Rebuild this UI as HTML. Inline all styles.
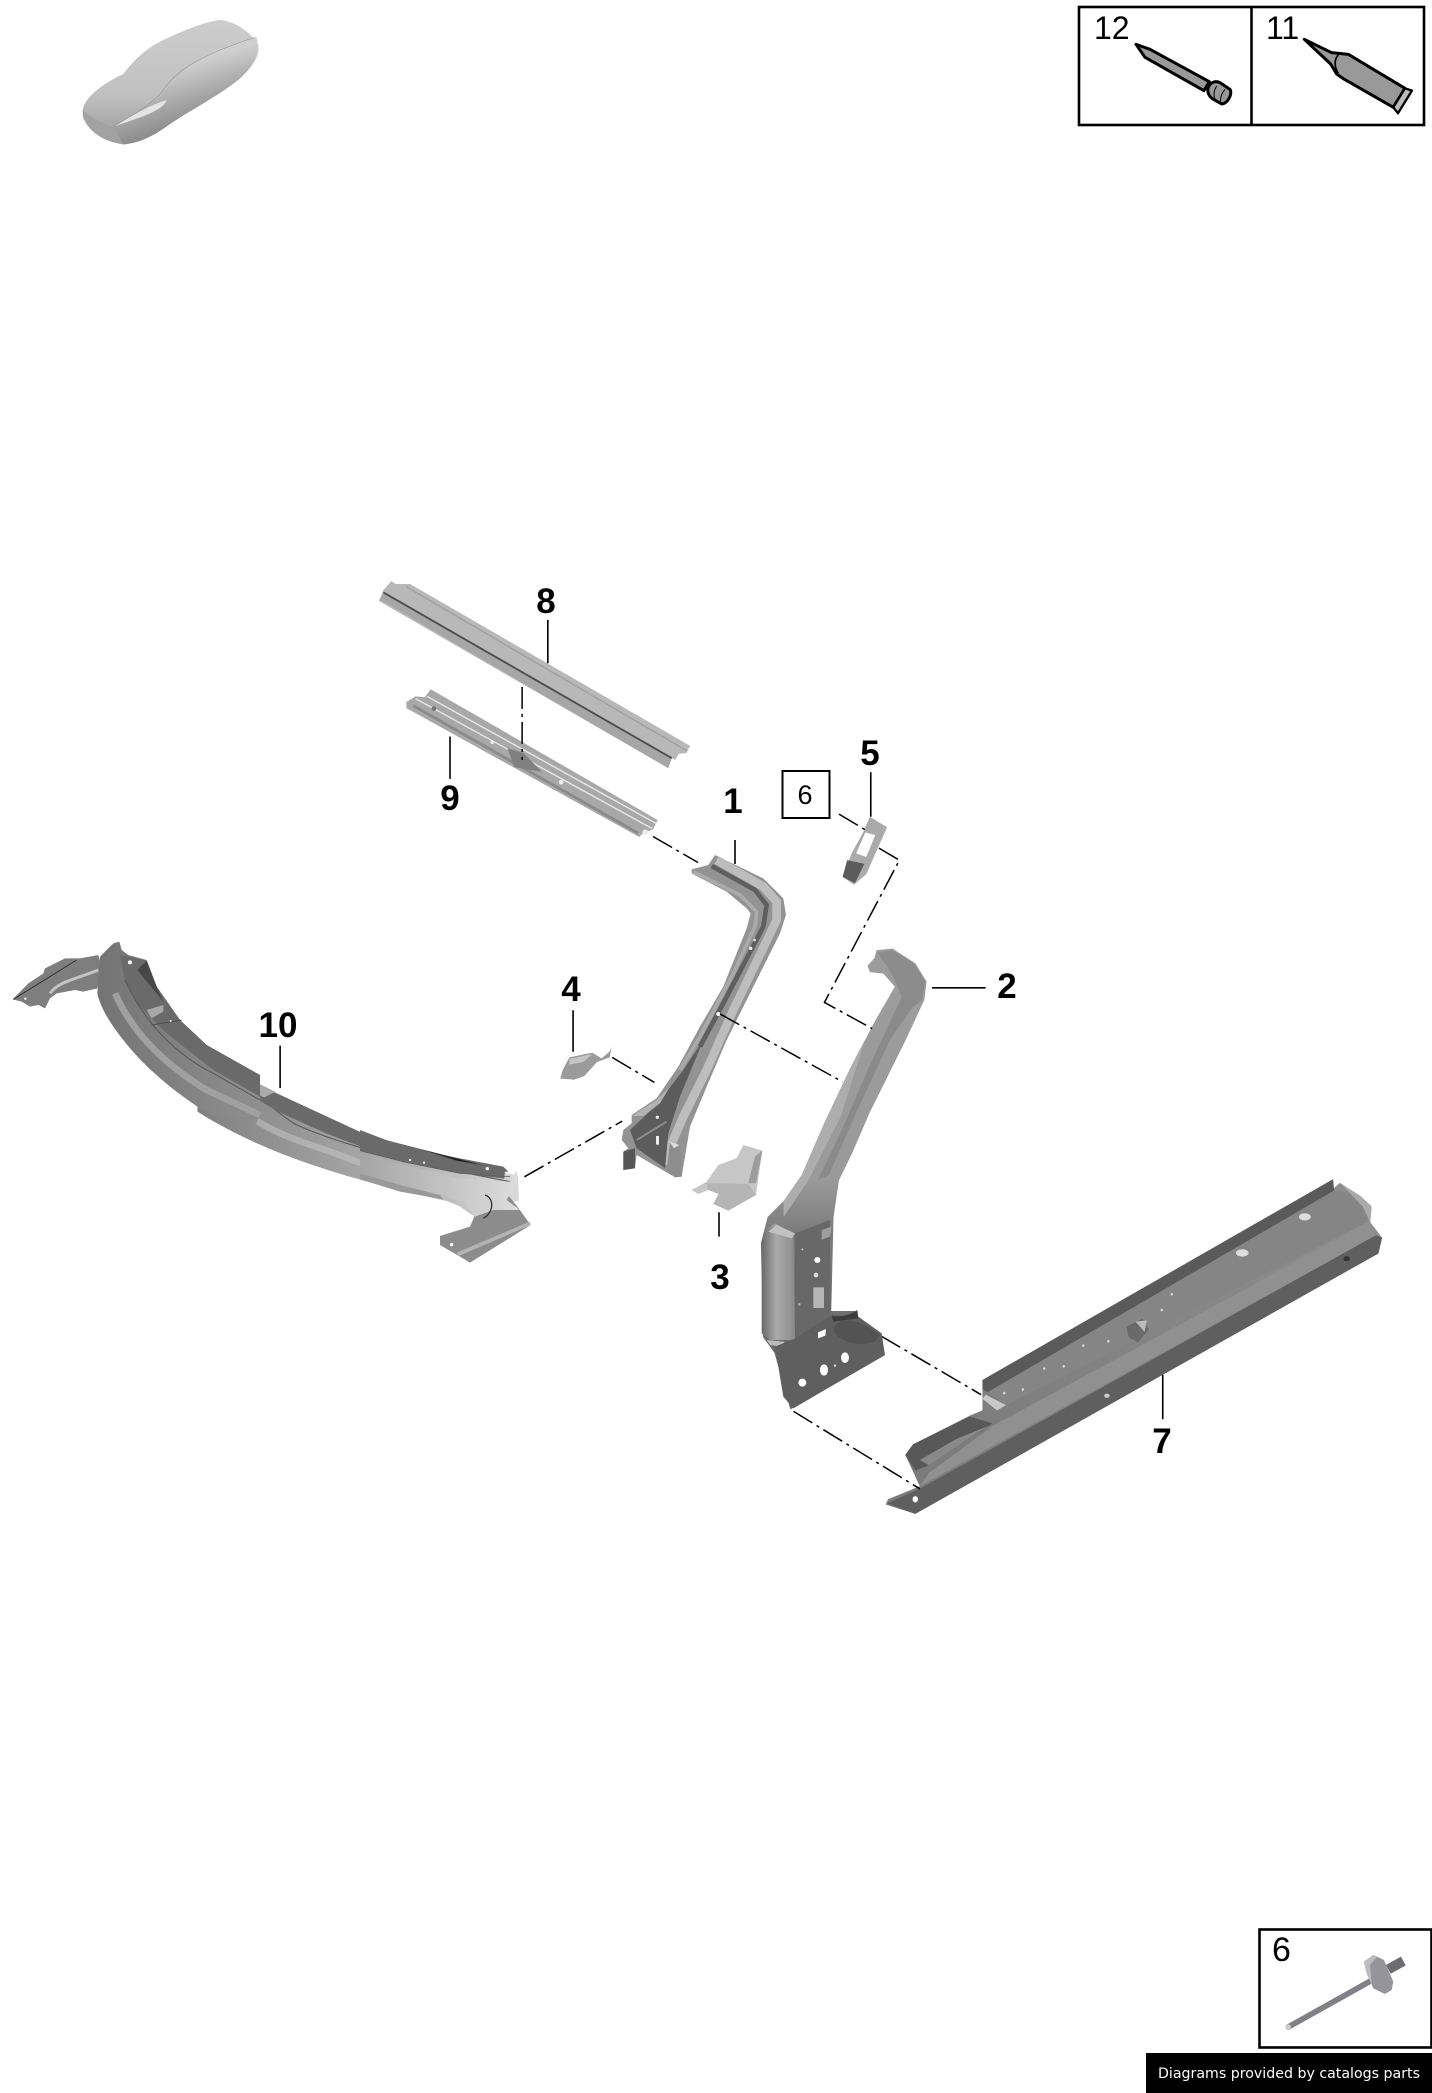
<!DOCTYPE html>
<html><head><meta charset="utf-8"><style>
html,body{margin:0;padding:0;background:#fff}
svg{display:block}
.n{font:bold 35px "Liberation Sans",sans-serif;text-anchor:middle;fill:#000}
.r{font:32px "Liberation Sans",sans-serif;fill:#000}
.l{stroke:#000;stroke-width:1.6;fill:none;vector-effect:non-scaling-stroke}
.d{stroke:#000;stroke-width:1.5;fill:none;stroke-dasharray:22 5 3 5;vector-effect:non-scaling-stroke}
.o{stroke:#000;stroke-width:9;stroke-linejoin:round;fill:#999}
</style></head><body>
<svg width="1432" height="2093" viewBox="0 0 1432 2093" xmlns="http://www.w3.org/2000/svg">
<defs>
<linearGradient id="car" x1="0" y1="0" x2="0" y2="1"><stop offset="0" stop-color="#cdcdcd"/><stop offset=".6" stop-color="#c0c0c0"/><stop offset="1" stop-color="#999"/></linearGradient>
<linearGradient id="cars" x1=".42" y1=".3" x2=".66" y2=".85"><stop offset="0" stop-color="#cfcfcf"/><stop offset=".5" stop-color="#a6a6a6"/><stop offset="1" stop-color="#818181"/></linearGradient>
<linearGradient id="b10" gradientUnits="userSpaceOnUse" x1="220" y1="0" x2="1120" y2="0"><stop offset="0" stop-color="#696969"/><stop offset=".4" stop-color="#909090"/><stop offset=".75" stop-color="#b0b0b0"/><stop offset="1" stop-color="#d8d8d8"/></linearGradient>
<linearGradient id="b10l" gradientUnits="userSpaceOnUse" x1="300" y1="0" x2="780" y2="0"><stop offset="0" stop-color="#747474"/><stop offset="1" stop-color="#8f8f8f"/></linearGradient>
<linearGradient id="b10r" gradientUnits="userSpaceOnUse" x1="0" y1="0" x2="470" y2="0"><stop offset="0" stop-color="#a5a5a5"/><stop offset="1" stop-color="#dcdcdc"/></linearGradient>
<linearGradient id="p2" x1="0" y1="0" x2="0" y2="1"><stop offset="0" stop-color="#9c9c9c"/><stop offset=".5" stop-color="#9a9a9a"/><stop offset=".62" stop-color="#7a7a7a"/><stop offset="1" stop-color="#606060"/></linearGradient>
<linearGradient id="p2s" x1="0" y1="0" x2="1" y2="0"><stop offset="0" stop-color="#6a6a6a"/><stop offset=".45" stop-color="#aaaaaa"/><stop offset="1" stop-color="#8a8a8a"/></linearGradient>
<linearGradient id="b7" gradientUnits="userSpaceOnUse" x1="400" y1="0" x2="1450" y2="0"><stop offset="0" stop-color="#7a7a7a"/><stop offset="1" stop-color="#8e8e8e"/></linearGradient>
<filter id="sf"><feGaussianBlur stdDeviation=".45"/></filter>
</defs>

<!-- car thumbnail -->
<g transform="translate(60,0) scale(.3333)" filter="url(#sf)">
<path d="M68 330C75 290 130 250 190 222C215 190 240 160 290 130C350 100 430 65 480 60C530 65 575 100 595 135C600 170 575 205 540 235C480 285 400 325 330 372C285 405 240 430 190 433C130 425 85 395 68 350Z" fill="url(#car)"/>
<path d="M160 380C210 350 270 320 300 290C330 250 370 200 450 160C500 135 550 118 590 112C600 150 580 200 540 235C480 285 400 325 330 372C285 405 240 430 190 433C170 425 160 400 160 380Z" fill="url(#cars)"/>
<path d="M68 330C70 370 110 415 190 433L160 380C120 370 90 350 68 330Z" fill="#a2a2a2"/>
<path d="M165 378C220 345 270 315 320 300C310 330 250 350 165 378Z" fill="#e4e4e4"/>
<path d="M160 378C220 345 280 310 310 270C345 215 420 165 585 112" fill="none" stroke="#9a9a9a" stroke-width="2"/>
</g>

<!-- top right boxes -->
<rect x="1079" y="7" width="345" height="118" fill="#fff" stroke="#000" stroke-width="2.6"/>
<line x1="1251.5" y1="7" x2="1251.5" y2="125" stroke="#000" stroke-width="2.6"/>
<text class="r" x="1094" y="39">12</text>
<text class="r" x="1266" y="39">11</text>
<g transform="translate(1060,0) scale(.3333)">
<path class="o" d="M228 133L270 148L448 245L432 272L255 172Z"/>
<path class="o" d="M445 262C452 245 468 242 480 248L510 268C518 280 505 310 485 312L460 298C447 290 440 275 445 262Z"/>
<path d="M470 258C462 270 460 285 465 298M495 268C485 280 480 295 482 308" stroke="#000" stroke-width="3" fill="none"/>
<path class="o" d="M733 118L815 158L865 163L1035 265L1000 322L850 236L830 222L812 192Z"/>
<path d="M835 165C820 180 825 205 835 220" stroke="#000" stroke-width="5" fill="none"/>
<path d="M1035 265L1056 272L1014 340L1000 322Z" fill="#bbb" stroke="#000" stroke-width="7" stroke-linejoin="round"/>
</g>

<!-- bottom right box -->
<rect x="1259.5" y="1929.5" width="172" height="118" fill="#fff" stroke="#000" stroke-width="2.6"/>
<text x="1272" y="1961" style="font:34px 'Liberation Sans',sans-serif">6</text>
<g transform="translate(1140,1910) scale(.3333)" filter="url(#sf)">
<line x1="445" y1="351" x2="715" y2="200" stroke="#808086" stroke-width="17" stroke-linecap="round"/>
<circle cx="445" cy="351" r="8" fill="#ccc"/>
<line x1="745" y1="178" x2="790" y2="153" stroke="#6c6c72" stroke-width="30"/>
<path d="M672 155L700 135L732 150L760 215L755 240L735 252L700 235L680 190Z" fill="#94949a"/>
<path d="M672 155L700 135L710 142L690 165L695 220L700 235L680 190Z" fill="#bcbcc0"/>
</g>
<rect x="1146" y="2053" width="286" height="40" fill="#000"/>
<text x="1158" y="2078" textLength="262" lengthAdjust="spacingAndGlyphs" style="font:14.5px 'DejaVu Sans',sans-serif;fill:#fff">Diagrams provided by catalogs parts</text>

<!-- parts in zoom-1 space -->
<g transform="translate(0,550) scale(.4592,.472)" filter="url(#sf)">
<!-- 8 -->
<path d="M835 85L852 66L862 72L893 72L1503 415L1495 430L1478 432L1470 445L1463 441L1455 462L825 108Z" fill="#b8b8b8"/>
<path d="M828 105L1455 462L1463 441L835 90Z" fill="#a6a6a6"/>
<path d="M835 90L1463 441" stroke="#4d4d4d" stroke-width="4" fill="none"/>
<path d="M885 78L1495 425" stroke="#a0a0a0" stroke-width="3" fill="none"/>
<!-- 9 -->
<path d="M885 322L905 310L925 312L938 295L1432 572L1422 592L1400 600L1392 608L885 335Z" fill="#a8a8a8"/>
<path d="M905 315L1420 590M930 310L1430 580" stroke="#e6e6e6" stroke-width="3" fill="none"/>
<path d="M900 330L1390 600" stroke="#8a8a8a" stroke-width="6" fill="none"/>
<path d="M1105 420L1120 460L1180 470L1140 430Z" fill="#808080"/>
<circle cx="945" cy="336" r="5" fill="#777"/><circle cx="1072" cy="407" r="4" fill="#eee"/><circle cx="1222" cy="492" r="5" fill="#eee"/><circle cx="1405" cy="598" r="6" fill="#eee"/>
<!-- 10 lower band -->
<path d="M430 1080L430 1190C560 1270 720 1325 975 1380L1000 1390L1030 1410L1130 1378L1128 1325L1100 1320L800 1250L600 1170L430 1070Z" fill="url(#b10)"/>
<path d="M560 1150C590 1180 610 1195 640 1215C760 1270 960 1310 1120 1340" stroke="#5a5a5a" stroke-width="2.5" fill="none"/>
<path d="M560 1210C610 1240 660 1255 720 1275C840 1320 930 1345 1020 1370" stroke="#c4c4c4" stroke-width="14" fill="none" opacity=".55"/>
<!-- 10 deck -->
<path d="M540 1118L600 1150L800 1240L1000 1290L1100 1312L1098 1332C950 1315 800 1280 640 1205C600 1188 570 1170 540 1150Z" fill="#6a6a6a"/>
<path d="M880 1270C950 1295 1030 1305 1095 1312L1000 1298Z" fill="#222"/>
<path d="M520 1130L545 1122L600 1148L575 1160Z" fill="#aaa"/><path d="M800 1268L830 1250L885 1268L855 1282Z" fill="#555"/>
<circle cx="895" cy="1293" r="3" fill="#fff"/><circle cx="925" cy="1298" r="3" fill="#fff"/>
<!-- 4 -->
<path d="M1240 1075L1290 1065L1310 1077L1328 1062L1332 1052L1328 1075L1300 1085L1272 1115L1250 1122L1220 1120L1226 1100Z" fill="#9b9b9b"/>
<path d="M1240 1078L1290 1068L1270 1085L1240 1090Z" fill="#c5c5c5"/>
<!-- connectors -->
<path class="d" d="M1137 290L1137 445"/>
<path class="d" d="M1422 607L1520 662"/>
<path class="d" d="M1333 1075L1425 1128"/>
<path class="d" d="M1142 1328L1355 1210"/>
<path class="l" d="M1193 148V240M980 395V485M610 1050V1140M1248 975V1063"/>
</g>

<!-- part 10 left end, zoom 8 space -->
<g transform="translate(0,930) scale(.3333)" filter="url(#sf)">
<path d="M38 208L85 160L130 130L135 115L195 85L240 85L295 75L305 115L292 175L250 185L225 180L170 190L150 205L135 235L115 225L90 230L65 215Z" fill="#7e7e7e"/>
<path d="M150 190C175 155 220 150 295 120" stroke="#c4c4c4" stroke-width="9" fill="none"/>
<path d="M40 208L230 90" stroke="#333" stroke-width="3"/>
<path d="M300 80L340 40L358 35L365 60L385 75L440 90L470 170L540 270L620 345L780 435L780 560L640 560C540 500 440 420 370 330C330 280 300 230 292 190Z" fill="url(#b10l)"/>
<path d="M360 75L440 92L470 170L540 270L620 345L780 435L780 500L640 420L500 310L420 230L375 150Z" fill="#6a6a6a"/>
<path d="M412 120L440 92L470 170L490 215Z" fill="#474747"/>
<path d="M440 240L490 225L490 245L455 265Z" fill="#a8a8a8"/>
<path d="M455 285L545 270" stroke="#444" stroke-width="2"/>
<path d="M345 190C395 300 480 395 620 480L780 555" stroke="#a0a0a0" stroke-width="20" fill="none"/>
<path d="M375 150C430 270 520 370 640 430L780 510" stroke="#555" stroke-width="3" fill="none"/>
<circle cx="390" cy="97" r="6" fill="#fff"/><circle cx="512" cy="273" r="3" fill="#fff"/>
<circle cx="76" cy="206" r="3.5" fill="#fff"/>
</g>

<!-- part 10 right end, zoom 9 space -->
<g transform="translate(360,1110) scale(.3333)" filter="url(#sf)">
<path d="M0 190L240 255L250 268L120 245L0 208Z" fill="#999"/>
<path d="M330 350L345 315L400 250L440 250L480 300L512 345L330 458L300 440L240 405L240 378Z" fill="#8c8c8c"/>
<path d="M296 438L512 345L510 335L290 428Z" fill="#b4b4b4"/>
<path d="M0 125L130 165L300 205L450 215L470 180L472 215L440 270L480 300L400 300L345 320L310 275L240 255L120 225L0 190Z" fill="url(#b10r)"/>
<path d="M0 60L130 110L300 145L430 170L445 185L300 190L130 155L0 122Z" fill="#6a6a6a"/>
<path d="M185 118C250 135 310 150 365 165L290 152Z" fill="#222"/>
<path d="M0 122L130 155L300 190L450 200" stroke="#5f5f5f" stroke-width="2.5" fill="none"/>
<path d="M375 255C405 265 400 310 370 325" stroke="#333" stroke-width="4" fill="none"/>
<circle cx="150" cy="150" r="3.5" fill="#fff"/><circle cx="192" cy="158" r="3.5" fill="#fff"/><circle cx="382" cy="176" r="5" fill="#fff"/><circle cx="275" cy="404" r="5" fill="#fff"/>
</g>

<!-- part 1 & 3, zoom 6 space -->
<g transform="translate(600,840) scale(.3333)" filter="url(#sf)">
<path d="M345 45L490 115L550 175L558 225L540 280L470 420L380 600L320 740L270 860L245 1010L225 1012L110 945L105 985L70 990L70 935L85 925L65 900L70 870L95 850L95 825L170 775L235 680L300 560L370 440L440 265L452 220L440 205L380 155L275 100L275 88L325 75Z" fill="#939393"/>
<path d="M350 60L490 140L530 185L530 240L400 510L320 690L250 830L215 910L210 975" stroke="#bdbdbd" stroke-width="26" fill="none"/>
<path d="M335 78L465 150L500 195L490 260L375 480L300 620" stroke="#5e5e5e" stroke-width="14" fill="none"/>
<path d="M280 95L420 165L470 215L465 260L400 400L300 590L240 690" stroke="#aaa" stroke-width="11" fill="none"/>
<path d="M90 870L165 800L250 690L310 600L240 770L205 880L195 985L110 925Z" fill="#5c5c5c"/>
<path d="M95 828L170 780L210 740L180 790L130 828Z" fill="#b2b2b2"/>
<path d="M110 900L200 845" stroke="#8c8c8c" stroke-width="6"/>
<path d="M70 935L105 925L105 985L70 990Z" fill="#565656"/>
<rect x="168" y="888" width="9" height="26" fill="#eee"/><circle cx="172" cy="832" r="5" fill="#eee"/><circle cx="452" cy="325" r="5" fill="#eee"/><circle cx="464" cy="300" r="4" fill="#ddd"/><circle cx="355" cy="522" r="6" fill="#fff"/>
<path d="M210 905L240 920L245 1010L225 1012L200 990Z" fill="#8e8e8e"/><path d="M208 905L238 915L222 925Z" fill="#ddd"/>
<!-- 3 -->
<path d="M430 915L487 932L468 1065L385 1112L340 1092L356 1062L325 1050L295 1062L275 1050L320 1025L355 975L410 955Z" fill="#c6c6c6"/>
<path d="M487 932L468 1030L445 1030L465 950Z" fill="#9c9c9c"/>
<path d="M320 1030L445 1032L468 1065L385 1112L340 1092L356 1062L325 1050Z" fill="#b5b5b5"/>
<path class="l" d="M405 0V72M357 1117V1190"/>
</g>

<!-- parts in zoom-2 space -->
<g transform="translate(720,720) scale(.4541,.523)" filter="url(#sf)">
<!-- 5 -->
<path d="M330 185L368 205L350 240L322 295L295 315L270 300L290 255L315 215Z" fill="#aaaaaa"/>
<path d="M320 215L342 220L322 262L300 255Z" fill="#fff"/>
<path d="M280 268L318 275L297 312L270 300Z" fill="#5c5c5c"/>
<!-- 2 -->
<path d="M345 440L380 437L430 465L455 500L450 535L410 610L330 750L290 830L262 880L250 950L245 1130L300 1130L303 1150L355 1175L362 1215L155 1318L120 1210L95 1180L90 1000L105 950L140 920L180 870L230 770L290 660L345 570L385 510L360 485L330 482L325 470L340 455Z" fill="url(#p2)"/>
<path d="M345 445L380 440L430 468L452 500L445 535L410 560C400 530 390 490 345 445Z" fill="#8c8c8c"/>
<path d="M400 530L330 660L265 790L215 880L240 870L290 770L375 610L440 530Z" fill="#8a8a8a"/>
<path d="M230 770L290 660L320 610L265 760L195 880L140 950L140 920L180 870Z" fill="#adadad"/>
<!-- 7 -->
<path d="M1350 878L1352 895L1365 885L1410 910L1435 930L1432 960L1458 990L1450 1020L430 1518L365 1500L370 1490L440 1465L408 1405L425 1385L550 1330L578 1320L578 1262Z" fill="url(#b7)"/>
<path d="M1350 878L1352 900L590 1285L578 1280L578 1262Z" fill="#5a5a5a"/>
<path d="M1352 900L1400 905L1430 930L1425 960L630 1310L590 1285Z" fill="#858585"/>
<path d="M585 1290L630 1310L610 1320L578 1298Z" fill="#c8c8c8"/>
<path d="M1425 962L1445 985L440 1465L460 1440L600 1350Z" fill="#909090"/>
<path d="M1445 985L1458 990L1450 1020L430 1518L368 1498L440 1470Z" fill="#5e5e5e"/>
<path d="M408 1405L425 1385L550 1332L600 1345L460 1425L430 1435Z" fill="#585858"/>
<path d="M440 1415L520 1375L590 1350L460 1425Z" fill="#898989"/>
<path d="M895 1160L930 1145L945 1165L920 1190L900 1180Z" fill="#6a6a6a"/><path d="M915 1150L940 1148L935 1170Z" fill="#bbb"/>
<ellipse cx="1288" cy="950" rx="13" ry="7" fill="#ddd"/><ellipse cx="1150" cy="1019" rx="14" ry="7" fill="#ddd"/>
<circle cx="430" cy="1490" r="6" fill="#fff"/><ellipse cx="1380" cy="1030" rx="7" ry="5" fill="#333"/><ellipse cx="852" cy="1292" rx="6" ry="4" fill="#ccc"/>
<path d="M1365 885L1410 910L1435 930L1432 960L1415 930Z" fill="#aaa"/>
<g fill="#ddd"><circle cx="626" cy="1287" r="2.5"/><circle cx="667" cy="1280" r="2.5"/><circle cx="714" cy="1240" r="2.5"/><circle cx="757" cy="1236" r="2.5"/><circle cx="800" cy="1196" r="2.5"/><circle cx="855" cy="1188" r="2.5"/><circle cx="973" cy="1128" r="2.5"/><circle cx="995" cy="1098" r="2.5"/></g>
<!-- connectors -->
<path class="d" d="M262 180L320 210"/>
<path class="d" d="M350 245L395 268L230 540L335 590"/>
<path class="d" d="M0 562L270 692"/>
<path class="d" d="M355 1178L575 1290"/>
<path class="d" d="M162 1322L440 1470"/>
<path class="l" d="M332 100V185M467 512H585M975 1252V1337"/>
</g>

<!-- part 2 lower details -->
<g transform="translate(750,1200) scale(.3333)" filter="url(#sf)">
<path d="M35 125L52 85L75 70L130 100L135 420L60 420L35 400Z" fill="url(#p2s)"/>
<path d="M55 95L80 75L135 100L125 115Z" fill="#c2c2c2"/>
<path d="M50 420L100 425L130 445L60 435Z" fill="#bcbcbc"/>
<path d="M135 100L240 60L240 345L245 350L135 415Z" fill="#676767"/>
<path d="M75 440L135 415L245 345L300 350L325 350L395 400L405 465L130 625L100 590Z" fill="#5e5e5e"/>
<path d="M250 390C260 350 320 350 390 405L375 425C330 440 270 430 250 390Z" fill="#525252"/>
<path d="M245 348C275 352 300 345 322 330L325 355L250 365Z" fill="#3e3e3e"/>
<path d="M215 90L245 80L240 110L215 120Z" fill="#9d9d9d"/>
<rect x="190" y="262" width="32" height="62" fill="#b6b6b6"/>
<circle cx="202" cy="180" r="9" fill="#fff"/><circle cx="198" cy="225" r="7" fill="#ddd"/>
<path d="M204 397L228 387L226 407L204 415Z" fill="#fff"/>
<ellipse cx="285" cy="473" rx="12" ry="16" fill="#fff"/><ellipse cx="222" cy="510" rx="12" ry="17" fill="#fff"/><circle cx="157" cy="548" r="12" fill="#fff"/><circle cx="255" cy="497" r="3.5" fill="#ddd"/>
<circle cx="148" cy="313" r="4" fill="#aaa"/><circle cx="157" cy="148" r="3" fill="#ccc"/>
</g>

<!-- box 6 callout -->
<rect x="782.5" y="771" width="47" height="47" fill="#fff" stroke="#000" stroke-width="2"/>
<text x="805" y="804" text-anchor="middle" style="font:27px 'Liberation Sans',sans-serif">6</text>

<!-- labels -->
<text class="n" x="546" y="613">8</text>
<text class="n" x="450" y="810">9</text>
<text class="n" x="278" y="1037">10</text>
<text class="n" x="571" y="1001">4</text>
<text class="n" x="733" y="813">1</text>
<text class="n" x="870" y="765">5</text>
<text class="n" x="1007" y="998">2</text>
<text class="n" x="720" y="1289">3</text>
<text class="n" x="1162" y="1453">7</text>
</svg>
</body></html>
